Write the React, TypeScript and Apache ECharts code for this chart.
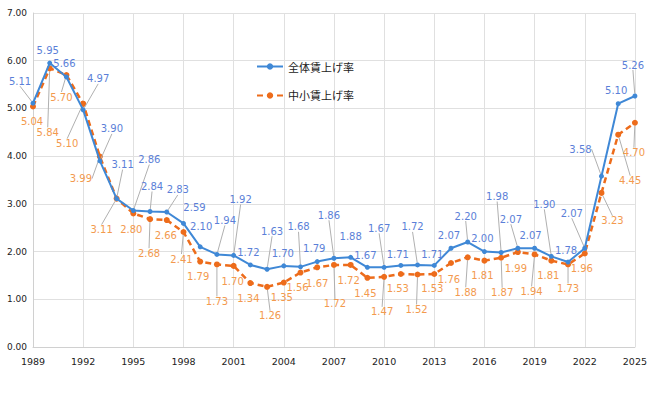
import React, { useEffect, useRef } from "react";
import * as echarts from "echarts";

const years = [1989,1990,1991,1992,1993,1994,1995,1996,1997,1998,1999,2000,2001,2002,2003,2004,2005,2006,2007,2008,2009,2010,2011,2012,2013,2014,2015,2016,2017,2018,2019,2020,2021,2022,2023,2024,2025];
const allRate = [5.11,5.95,5.66,4.97,3.90,3.11,2.86,2.84,2.83,2.59,2.10,1.94,1.92,1.72,1.63,1.70,1.68,1.79,1.86,1.88,1.67,1.67,1.71,1.72,1.71,2.07,2.20,2.00,1.98,2.07,2.07,1.90,1.78,2.07,3.58,5.10,5.26];
const smeRate = [5.04,5.84,5.70,5.10,3.99,3.11,2.80,2.68,2.66,2.41,1.79,1.73,1.70,1.34,1.26,1.35,1.56,1.67,1.72,1.72,1.45,1.47,1.53,1.52,1.53,1.76,1.88,1.81,1.87,1.99,1.94,1.81,1.73,1.96,3.23,4.45,4.70];
const seriesNames = ["全体賃上げ率", "中小賃上げ率"];

// label offsets (px) from each point, [dx, dy]
const allLabelOffsets: number[][] = [
  [-13,-22],[-2,-13],[-2,-13],[15,-31],[12,-32],[6,-34],[16,-51],[2,-25],[11,-22],[11,-16],
  [1,-20],[8,-34],[7,-56],[-2,-12],[5,-38],[-1,-12],[-2,-40],[-3,-13],[-5,-43],[0,-21],
  [-2,-12],[-5,-39],[-3,-11],[-5,-38],[-2,-11],[-2,-13],[-2,-26],[-2,-13],[-4,-56],[-7,-29],
  [-4,-13],[-7,-52],[-2,-12],[-13,-35],[-21,-27],[-2,-13],[-2,-31]
];
const smeLabelOffsets: number[][] = [
  [-1,15],[-2,64],[-5,22],[-16,40],[-19,22],[-15,31],[-2,16],[-1,34],[-1,15],[-2,27],
  [-2,15],[0,37],[-1,16],[-2,15],[3,29],[-2,15],[-3,15],[0,16],[1,39],[-2,16],
  [-2,16],[-2,35],[-3,15],[-1,35],[-2,15],[-2,16],[-2,35],[-2,15],[1,35],[-2,16],
  [-3,37],[-3,15],[0,24],[-3,15],[11,28],[12,46],[-1,30]
];

export default function App() {
  const ref = useRef<HTMLDivElement>(null);
  useEffect(() => {
    if (!ref.current) return;
    const chart = echarts.init(ref.current, null, { renderer: "svg" });
    const mk = (vals: number[], offs: number[][]) =>
      vals.map((v, i) => {
        const d = Math.hypot(offs[i][0], offs[i][1]);
        return { value: [years[i], v], labelLine: { show: d > 22 } };
      });
    const font = "Verdana, 'DejaVu Sans', sans-serif";
    chart.setOption({
      animation: false,
      textStyle: { fontFamily: font },
      grid: { left: 33, right: 14, top: 13, bottom: 47 },
      legend: {
        orient: "vertical",
        left: 251,
        top: 56,
        itemGap: 18,
        itemWidth: 26,
        itemHeight: 8,
        textStyle: { fontSize: 11, color: "#222", fontFamily: "'Noto Sans CJK JP', sans-serif" },
        data: seriesNames,
      },
      xAxis: {
        type: "value",
        min: 1989,
        max: 2025,
        interval: 3,
        axisLine: { show: true, lineStyle: { color: "#d0d0d0", width: 1 } },
        axisTick: { show: false },
        axisLabel: { fontSize: 9.5, color: "#222", margin: 9, fontFamily: font, formatter: (v: number) => String(v) },
        splitLine: { show: true, lineStyle: { color: "#e0e0e0" } },
      },
      yAxis: {
        type: "value",
        min: 0,
        max: 7,
        interval: 1,
        axisLine: { show: true, lineStyle: { color: "#d0d0d0" } },
        axisTick: { show: false },
        axisLabel: { fontSize: 9, color: "#222", formatter: (v: number) => v.toFixed(2), margin: 6, fontFamily: font },
        splitLine: { show: true, lineStyle: { color: "#e0e0e0" } },
      },
      series: [
        {
          name: seriesNames[0],
          type: "line",
          data: mk(allRate, allLabelOffsets),
          z: 3,
          symbol: "circle",
          symbolSize: 5,
          lineStyle: { color: "#3F88D6", width: 2 },
          itemStyle: { color: "#3F88D6" },
          label: {
            show: true,
            position: "inside",
            fontSize: 10,
            color: "#5B7FD8",
            fontFamily: font,
            formatter: (p: any) => p.value[1].toFixed(2),
          },
          labelLine: { show: true, lineStyle: { color: "#b0b0b0", width: 1 }, length2: 0 },
          labelLayout: (p: any) => ({ dx: allLabelOffsets[p.dataIndex][0], dy: allLabelOffsets[p.dataIndex][1] }),
        },
        {
          name: seriesNames[1],
          type: "line",
          data: mk(smeRate, smeLabelOffsets),
          z: 2,
          symbol: "circle",
          symbolSize: 6,
          lineStyle: { color: "#ED6C1B", width: 2.5, type: [6, 4] },
          itemStyle: { color: "#ED6C1B" },
          label: {
            show: true,
            position: "inside",
            fontSize: 10,
            color: "#F39A4E",
            fontFamily: font,
            formatter: (p: any) => p.value[1].toFixed(2),
          },
          labelLine: { show: true, lineStyle: { color: "#b0b0b0", width: 1 }, length2: 0 },
          labelLayout: (p: any) => ({ dx: smeLabelOffsets[p.dataIndex][0], dy: smeLabelOffsets[p.dataIndex][1] }),
        },
      ],
    });
    return () => chart.dispose();
  }, []);
  return <div ref={ref} style={{ position: "absolute", left: 0, top: 0, width: 650, height: 394 }} />;
}
